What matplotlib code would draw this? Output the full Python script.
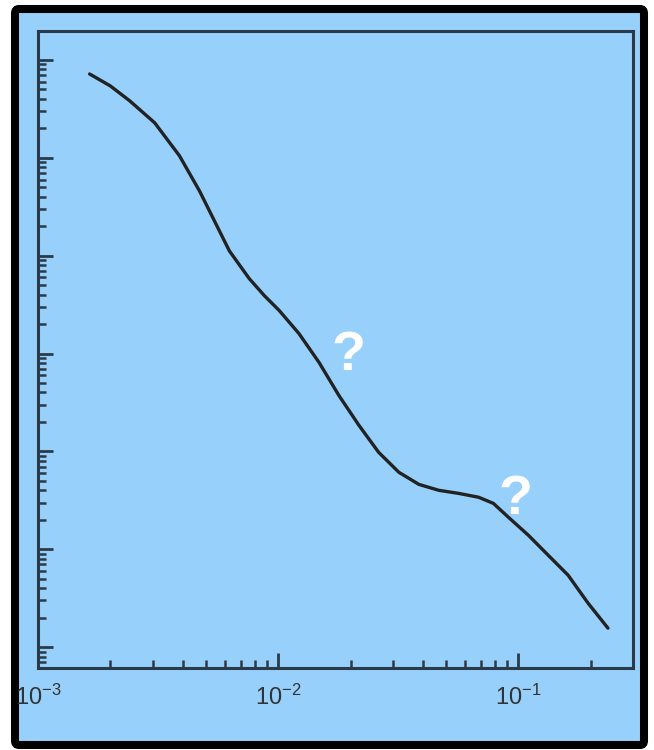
import matplotlib
matplotlib.use("Agg")
import matplotlib.pyplot as plt
from matplotlib.patches import FancyBboxPatch
from matplotlib.ticker import LogLocator, LogFormatterSciNotation, NullFormatter

plt.rcParams['font.family'] = ['Liberation Sans', 'DejaVu Sans']
plt.rcParams['mathtext.fontset'] = 'custom'
plt.rcParams['mathtext.rm'] = 'Liberation Sans'
plt.rcParams['mathtext.it'] = 'Liberation Sans:italic'
plt.rcParams['mathtext.bf'] = 'Liberation Sans:bold'

# Data
q_values = [1.64e-3, 2.0e-3, 2.41e-3, 3.06e-3, 3.88e-3, 4.70e-3, 5.42e-3, 6.26e-3,
            7.58e-3, 8.75e-3, 1.01e-2, 1.22e-2, 1.48e-2, 1.79e-2, 2.17e-2, 2.62e-2,
            3.18e-2, 3.85e-2, 4.66e-2, 5.64e-2, 6.82e-2, 7.87e-2, 9.09e-2, 0.110,
            0.133, 0.161, 0.195, 0.236]
intensity = [7.19e5, 5.43e5, 3.82e5, 2.28e5, 1.05e5, 4.60e4, 2.28e4, 1.12e4,
             5.82e3, 3.91e3, 2.75e3, 1.60e3, 809, 372, 184, 97.7,
             61.1, 46.0, 40.0, 37.2, 34.0, 29.4, 21.2, 13.9,
             8.69, 5.43, 2.81, 1.56]
x_limits = [1e-3, 0.3]
y_limits = [10 ** -0.214, 10 ** 6.296]
annotations = ["?", "?"]
annotation_pos = [(1.97e-2, 9.5e2), (9.7e-2, 3.2e1)]

W, H = 654, 750
fig = plt.figure(figsize=(W / 100, H / 100), dpi=100)
fig.patch.set_facecolor('white')

blue = '#96D0FB'
frame = FancyBboxPatch((15 / W, 1 - 745 / H), (644 - 15) / W, (745 - 9) / H,
                       boxstyle="round,pad=0,rounding_size=0.006",
                       transform=fig.transFigure, facecolor=blue,
                       edgecolor='black', linewidth=5.8, zorder=-5)
fig.patches.append(frame)

ax = fig.add_axes([38 / W, 1 - 668 / H, (633 - 38) / W, (668 - 31) / H])
ax.set_zorder(2)
ax.set_facecolor(blue)
ax.set_xscale('log')
ax.set_yscale('log')
ax.set_xlim(*x_limits)
ax.set_ylim(*y_limits)

ax.plot(q_values, intensity, color='#222222', linewidth=2.4,
        solid_capstyle='round', solid_joinstyle='round')

for s in ax.spines.values():
    s.set_color('#2a3a48')
    s.set_linewidth(2.2)

ax.xaxis.set_major_locator(LogLocator(base=10, numticks=10))
ax.xaxis.set_minor_locator(LogLocator(base=10, subs=range(2, 10), numticks=20))
ax.yaxis.set_major_locator(LogLocator(base=10, numticks=10))
ax.yaxis.set_minor_locator(LogLocator(base=10, subs=range(2, 10), numticks=20))
ax.xaxis.set_major_formatter(LogFormatterSciNotation())
ax.xaxis.set_minor_formatter(NullFormatter())
ax.yaxis.set_major_formatter(NullFormatter())
ax.yaxis.set_minor_formatter(NullFormatter())

ax.tick_params(axis='both', which='major', direction='in', length=11, width=2,
               color='#2a3a48', top=False, right=False)
ax.tick_params(axis='both', which='minor', direction='in', length=5.5, width=1.8,
               color='#2a3a48', top=False, right=False)
ax.tick_params(axis='x', which='major', labelsize=17, labelcolor='#333333', pad=12)

for txt, (xq, yq) in zip(annotations, annotation_pos):
    ax.text(xq, yq, txt, color='white', fontsize=40, fontweight='bold',
            ha='center', va='center')

fig.savefig('out.png', dpi=100, facecolor=fig.get_facecolor())
